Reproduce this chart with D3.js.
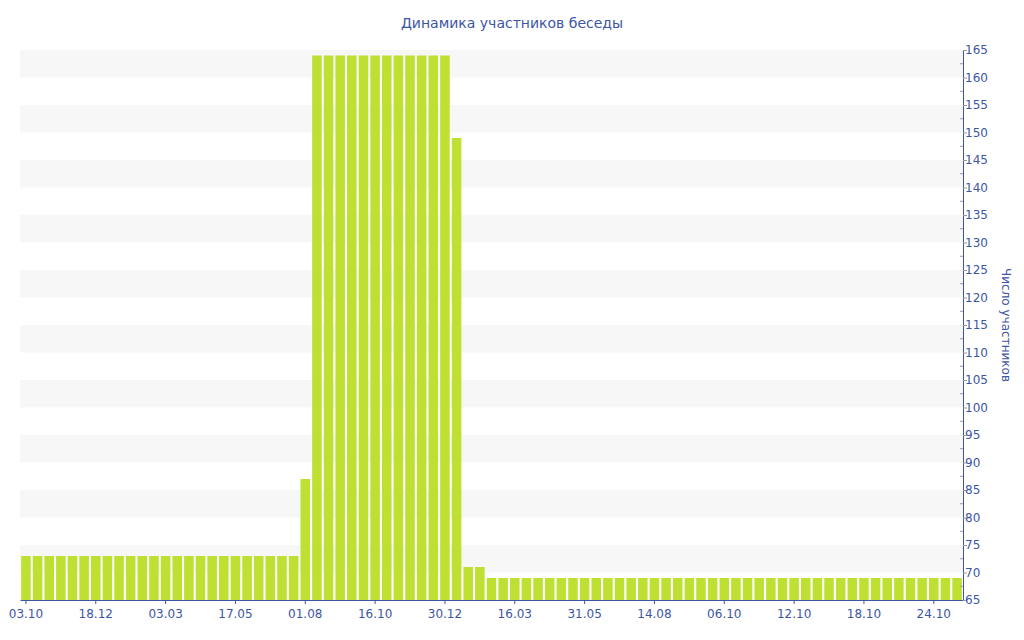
<!DOCTYPE html>
<html lang="ru">
<head>
<meta charset="utf-8">
<title>Динамика участников беседы</title>
<script src="https://d3js.org/d3.v7.min.js"></script>
<style>
  body { margin: 0; background: #fff; }
  text { font-family: "DejaVu Sans", Verdana, sans-serif; }
</style>
</head>
<body>
<div id="chart"></div>
<script>
// participants per snapshot (81 bars)
var members = [
  73,73,73,73,73,73,73,73,73,73,73,73,73,73,73,73,73,73,73,73,73,73,73,73,
  87,
  164,164,164,164,164,164,164,164,164,164,164,164,
  149,
  71,71,
  69,69,69,69,69,69,69,69,69,69,69,69,69,69,69,69,69,69,69,69,
  69,69,69,69,69,69,69,69,69,69,69,69,69,69,69,69,69,69,69,69,69
];
// date labels shown on every 6th bar
var dateLabels = ["03.10","18.12","03.03","17.05","01.08","16.10","30.12",
                  "16.03","31.05","14.08","06.10","12.10","18.10","24.10"];
var labelStep = 6;
var yTicks = d3.range(65, 166, 5);

var W = 1024, H = 640;
var margin = {top: 50, right: 61, bottom: 40, left: 20};
var width = W - margin.left - margin.right,
    height = H - margin.top - margin.bottom;
var ink = "#3d56a3";

var svg = d3.select("#chart").append("svg")
    .attr("width", W)
    .attr("height", H);

svg.append("text")
    .attr("x", W / 2)
    .attr("y", 28)
    .attr("text-anchor", "middle")
    .style("font-size", "14px")
    .style("fill", ink)
    .text("Динамика участников беседы");

var g = svg.append("g")
    .attr("transform", "translate(" + margin.left + "," + margin.top + ")");

var x = d3.scaleBand()
    .domain(d3.range(members.length))
    .range([0, width])
    .paddingInner(0.18)
    .paddingOuter(0.1);

var y = d3.scaleLinear()
    .domain([65, 165])
    .range([height, 0]);

// alternating stripes
g.selectAll(".stripe")
    .data(yTicks.filter(function(v) { return v % 10 === 0 && v < 165; }))
  .enter().append("rect")
    .attr("class", "stripe")
    .attr("x", 0)
    .attr("width", width)
    .attr("y", function(v) { return y(v + 5); })
    .attr("height", function(v) { return y(v) - y(v + 5); })
    .style("fill", "#f7f7f7");

g.selectAll(".bar")
    .data(members)
  .enter().append("rect")
    .attr("class", "bar")
    .attr("x", function(d, i) { return x(i); })
    .attr("width", x.bandwidth())
    .attr("y", function(d) { return y(d); })
    .attr("height", function(d) { return height - y(d); })
    .style("fill", "#bde033");

// bottom axis
var xAxis = d3.axisBottom(x)
    .tickValues(d3.range(0, members.length, labelStep))
    .tickFormat(function(i) { return dateLabels[i / labelStep]; })
    .tickSize(4)
    .tickSizeOuter(0);

var gx = g.append("g")
    .attr("transform", "translate(0," + height + ")")
    .call(xAxis);
gx.select(".domain").attr("stroke", ink);
gx.selectAll(".tick line").attr("stroke", ink);
gx.selectAll(".tick text").style("fill", ink).style("font-size", "12px").attr("dy", "0.9em");

// minor ticks on right axis
g.append("g").selectAll("line")
    .data(d3.range(67.5, 165, 5))
  .enter().append("line")
    .attr("x1", width - 3).attr("x2", width)
    .attr("y1", function(v) { return y(v); })
    .attr("y2", function(v) { return y(v); })
    .attr("stroke", "#999");

var yAxis = d3.axisRight(y)
    .tickValues(yTicks)
    .tickSize(4)
    .tickSizeOuter(0);

var gy = g.append("g")
    .attr("transform", "translate(" + width + ",0)")
    .call(yAxis);
gy.select(".domain").attr("stroke", ink);
gy.selectAll(".tick line").attr("stroke", "#999");
gy.selectAll(".tick text").style("fill", ink).style("font-size", "12px").attr("x", 2);

svg.append("text")
    .attr("transform", "translate(1002," + (margin.top + height / 2) + ") rotate(90)")
    .attr("text-anchor", "middle")
    .style("font-size", "12px")
    .style("fill", ink)
    .text("Число участников");
</script>
</body>
</html>
